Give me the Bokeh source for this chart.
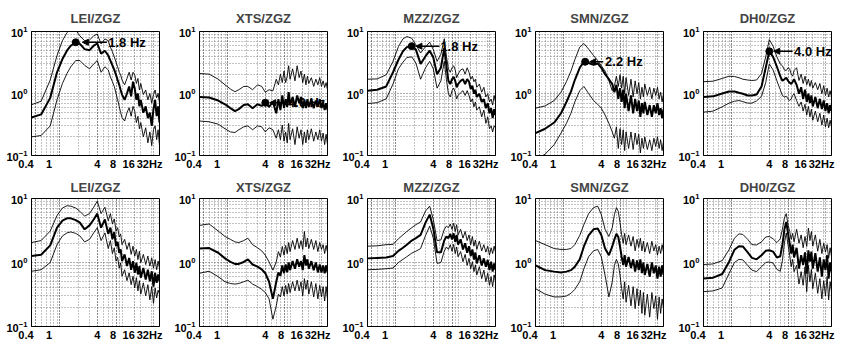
from bokeh.plotting import figure
from bokeh.layouts import gridplot
from bokeh.models import FixedTicker, Range1d, Arrow, NormalHead
from bokeh.core.properties import value
from bokeh.embed import file_html
from bokeh.resources import INLINE

# Frequency samples (Hz) shared by every spectral-ratio curve
freq = [0.35, 0.5, 0.7, 0.9, 1.1, 1.3, 1.5, 1.8, 2.1, 2.5, 3.0, 3.5, 4.0, 4.6, 5.3, 6.0,
        6.5, 7.0, 7.5, 8.0, 8.5, 9.0, 9.5, 10, 11, 12, 13, 14, 15, 16, 17, 18, 19, 20,
        22, 24, 26, 28, 30, 32, 34, 36, 38, 40]

stations = ["LEI/ZGZ", "XTS/ZGZ", "MZZ/ZGZ", "SMN/ZGZ", "DH0/ZGZ"]

# ---- upper row: mean ratio and mean +/- one standard deviation ----
lei_a_mean = [0.41, 0.46, 0.85, 2.2, 3.6, 4.9, 5.9, 6.7, 6.3, 5.2, 5.0, 5.9, 6.4, 4.4, 4.9, 4.1, 3.4, 2.85, 2.4, 2.0, 1.65, 1.38, 1.14, 0.96, 0.79, 1.0, 1.3, 0.9, 1.55, 1.2, 0.79, 1.0, 0.62, 0.79, 0.49, 0.62, 0.4, 0.49, 0.3, 0.56, 0.79, 0.43, 0.62, 0.34]
lei_a_upper = [0.66, 0.75, 1.65, 4.1, 7.1, 9.6, 11, 10.5, 8.5, 7.1, 7.3, 8.5, 9.1, 6.3, 7.6, 7.1, 5.6, 4.7, 3.9, 3.2, 2.7, 2.2, 2.0, 1.65, 1.38, 1.75, 2.2, 1.65, 2.2, 2.0, 1.45, 1.75, 1.14, 1.45, 0.96, 1.14, 0.79, 1.0, 0.7, 0.96, 1.14, 0.85, 1.0, 0.7]
lei_a_lower = [0.2, 0.21, 0.3, 0.79, 1.45, 2.1, 2.7, 3.4, 3.4, 2.85, 2.5, 3.0, 3.4, 2.2, 2.7, 2.4, 1.85, 1.55, 1.3, 1.0, 0.79, 0.62, 0.49, 0.41, 0.36, 0.49, 0.59, 0.43, 0.62, 0.52, 0.34, 0.43, 0.27, 0.34, 0.2, 0.28, 0.16, 0.24, 0.145, 0.26, 0.3, 0.18, 0.26, 0.145]

xts_a_mean = [0.88, 0.86, 0.77, 0.67, 0.58, 0.52, 0.56, 0.65, 0.67, 0.58, 0.67, 0.63, 0.71, 0.61, 0.73, 0.48, 0.81, 0.54, 0.93, 0.58, 0.81, 0.61, 1.05, 0.65, 0.88, 0.61, 0.93, 0.7, 0.88, 0.58, 0.77, 0.58, 0.81, 0.61, 0.81, 0.58, 0.77, 0.61, 0.81, 0.58, 0.73, 0.54, 0.7, 0.54]
xts_a_upper = [2.1, 2.05, 1.7, 1.38, 1.18, 1.07, 1.15, 1.3, 1.3, 1.15, 1.38, 1.3, 1.05, 1.15, 1.1, 1.7, 1.38, 2.05, 1.5, 2.3, 1.5, 1.9, 2.8, 1.7, 2.5, 1.6, 2.8, 1.8, 2.3, 1.5, 2.05, 1.38, 1.9, 1.45, 1.8, 1.3, 1.7, 1.38, 1.8, 1.3, 1.6, 1.25, 1.5, 1.15]
xts_a_lower = [0.36, 0.35, 0.32, 0.27, 0.24, 0.235, 0.26, 0.29, 0.3, 0.26, 0.3, 0.29, 0.24, 0.28, 0.26, 0.19, 0.26, 0.18, 0.31, 0.17, 0.24, 0.16, 0.33, 0.18, 0.27, 0.15, 0.29, 0.19, 0.26, 0.15, 0.24, 0.16, 0.26, 0.18, 0.27, 0.17, 0.24, 0.18, 0.26, 0.17, 0.23, 0.15, 0.22, 0.15]

mzz_a_mean = [1.11, 1.15, 1.3, 2.2, 3.5, 4.8, 5.6, 5.8, 5.1, 3.0, 4.0, 4.9, 3.8, 2.05, 2.6, 5.4, 2.8, 1.6, 1.42, 1.7, 1.85, 1.6, 1.26, 1.42, 1.6, 1.7, 1.42, 1.7, 1.55, 1.18, 1.34, 0.99, 1.15, 0.88, 0.99, 0.73, 0.81, 0.58, 0.7, 0.48, 0.58, 0.4, 0.56, 0.45]
mzz_a_upper = [1.7, 1.72, 2.0, 3.3, 5.7, 7.6, 8.3, 7.8, 6.1, 4.5, 5.7, 6.7, 5.1, 3.3, 4.3, 7.6, 4.0, 2.5, 2.2, 2.6, 2.8, 2.4, 1.8, 2.05, 2.4, 2.5, 2.05, 2.6, 2.2, 1.7, 1.9, 1.55, 1.7, 1.26, 1.42, 1.05, 1.26, 0.88, 0.99, 0.73, 0.81, 0.65, 0.93, 0.73]
mzz_a_lower = [0.69, 0.71, 0.82, 1.42, 2.5, 3.2, 3.8, 3.9, 3.1, 1.7, 2.6, 3.3, 2.5, 1.22, 1.6, 3.3, 1.7, 0.99, 0.88, 1.11, 1.22, 1.05, 0.82, 0.93, 1.03, 1.11, 0.93, 1.11, 0.93, 0.73, 0.82, 0.61, 0.73, 0.54, 0.61, 0.42, 0.54, 0.33, 0.42, 0.27, 0.3, 0.24, 0.3, 0.28]

smn_a_mean = [0.23, 0.27, 0.34, 0.48, 0.73, 1.07, 1.65, 2.6, 3.25, 3.1, 2.9, 3.05, 2.6, 2.05, 1.7, 1.42, 1.05, 1.38, 0.82, 1.22, 0.73, 1.15, 0.58, 0.99, 0.52, 0.93, 0.48, 0.82, 0.52, 0.77, 0.42, 0.7, 0.48, 0.73, 0.45, 0.65, 0.42, 0.65, 0.48, 0.7, 0.45, 0.58, 0.4, 0.56]
smn_a_upper = [0.58, 0.63, 0.77, 1.05, 1.55, 2.3, 3.5, 5.6, 6.4, 5.2, 4.1, 3.4, 2.8, 2.3, 1.6, 1.11, 1.34, 1.9, 1.3, 2.0, 1.22, 1.9, 0.99, 1.8, 0.93, 1.7, 0.88, 1.6, 0.99, 1.5, 0.82, 1.26, 0.88, 1.42, 0.93, 1.26, 0.82, 1.22, 0.93, 1.26, 0.82, 1.05, 0.73, 0.99]
smn_a_lower = [0.085, 0.105, 0.15, 0.23, 0.33, 0.48, 0.73, 1.11, 1.3, 1.0, 0.77, 0.67, 0.58, 0.45, 0.33, 0.24, 0.19, 0.29, 0.13, 0.27, 0.15, 0.26, 0.12, 0.24, 0.13, 0.24, 0.125, 0.23, 0.15, 0.22, 0.11, 0.19, 0.13, 0.2, 0.125, 0.18, 0.12, 0.19, 0.14, 0.2, 0.13, 0.18, 0.12, 0.17]

dh0_a_mean = [0.88, 0.9, 1.0, 1.08, 1.08, 1.03, 0.99, 0.93, 0.93, 0.96, 1.3, 2.6, 4.8, 3.9, 2.7, 1.9, 1.6, 1.7, 1.8, 1.6, 1.5, 1.42, 1.55, 1.7, 1.38, 0.99, 1.26, 0.82, 1.15, 0.73, 0.99, 0.7, 0.93, 0.62, 0.88, 0.58, 0.82, 0.56, 0.77, 0.52, 0.7, 0.48, 0.65, 0.52]
dh0_a_upper = [1.55, 1.58, 1.75, 1.9, 1.88, 1.8, 1.7, 1.65, 1.62, 1.65, 2.1, 3.9, 7.4, 5.8, 3.9, 3.0, 2.8, 2.4, 2.35, 2.6, 2.5, 2.05, 1.9, 2.35, 2.6, 1.62, 2.05, 1.45, 1.9, 1.38, 1.7, 1.3, 1.62, 1.22, 1.5, 1.15, 1.45, 0.99, 1.34, 0.93, 1.22, 0.88, 1.11, 0.88]
dh0_a_lower = [0.5, 0.52, 0.61, 0.7, 0.75, 0.77, 0.74, 0.7, 0.7, 0.76, 0.9, 1.5, 3.0, 2.4, 1.6, 1.15, 0.93, 0.88, 0.9, 0.82, 0.77, 0.82, 0.93, 0.99, 0.77, 0.62, 0.73, 0.52, 0.67, 0.45, 0.62, 0.42, 0.56, 0.37, 0.52, 0.35, 0.48, 0.31, 0.45, 0.29, 0.4, 0.28, 0.37, 0.29]

# ---- lower row ----
lei_b_mean = [1.26, 1.32, 1.85, 3.5, 4.5, 4.9, 4.9, 4.6, 4.2, 3.3, 3.8, 4.7, 5.8, 3.5, 4.7, 2.8, 3.5, 2.3, 3.0, 1.8, 2.1, 1.42, 1.6, 1.05, 1.34, 0.88, 1.18, 0.77, 1.05, 0.69, 0.99, 0.65, 0.88, 0.58, 0.82, 0.54, 0.77, 0.51, 0.73, 0.42, 0.69, 0.48, 0.65, 0.51]
lei_b_upper = [2.05, 2.2, 3.1, 5.4, 7.1, 7.7, 7.6, 7.1, 6.3, 5.3, 5.8, 7.3, 9.1, 5.8, 7.3, 4.5, 5.8, 4.0, 4.8, 3.1, 3.5, 2.5, 2.8, 1.9, 2.3, 1.6, 2.05, 1.34, 1.8, 1.26, 1.6, 1.11, 1.5, 0.99, 1.34, 0.93, 1.26, 0.88, 1.18, 0.82, 1.11, 0.77, 1.05, 0.82]
lei_b_lower = [0.73, 0.77, 1.0, 1.9, 2.6, 2.9, 3.0, 2.85, 2.6, 2.1, 2.3, 2.9, 3.5, 2.2, 2.9, 1.65, 2.2, 1.38, 1.7, 1.05, 1.2, 0.82, 0.99, 0.61, 0.77, 0.52, 0.69, 0.45, 0.61, 0.4, 0.58, 0.36, 0.52, 0.32, 0.48, 0.3, 0.45, 0.26, 0.42, 0.23, 0.4, 0.28, 0.37, 0.32]

xts_b_mean = [1.65, 1.68, 1.42, 1.16, 1.02, 0.95, 0.95, 1.02, 1.12, 0.93, 0.86, 0.78, 0.68, 0.5, 0.27, 0.5, 0.7, 0.62, 0.9, 0.68, 0.93, 0.7, 1.0, 0.76, 1.05, 0.8, 1.12, 0.86, 1.05, 0.76, 1.3, 0.9, 1.12, 0.8, 1.05, 0.76, 1.0, 0.7, 0.93, 0.7, 0.9, 0.68, 0.9, 0.7]
xts_b_upper = [3.8, 4.0, 3.1, 2.55, 2.3, 2.1, 2.05, 2.2, 2.4, 1.9, 1.7, 1.52, 1.3, 1.02, 0.76, 1.02, 1.48, 1.22, 1.78, 1.3, 1.85, 1.38, 2.05, 1.48, 2.2, 1.6, 2.4, 1.65, 2.2, 1.6, 3.05, 1.75, 2.4, 1.65, 2.3, 1.6, 2.2, 1.48, 2.05, 1.6, 1.9, 1.38, 1.85, 1.45]
xts_b_lower = [0.68, 0.73, 0.6, 0.5, 0.47, 0.46, 0.47, 0.5, 0.53, 0.46, 0.42, 0.38, 0.34, 0.27, 0.13, 0.21, 0.32, 0.29, 0.42, 0.3, 0.44, 0.32, 0.47, 0.34, 0.5, 0.36, 0.53, 0.36, 0.5, 0.3, 0.56, 0.38, 0.53, 0.32, 0.5, 0.29, 0.47, 0.27, 0.44, 0.29, 0.42, 0.25, 0.42, 0.27]

mzz_b_mean = [1.16, 1.18, 1.2, 1.26, 1.52, 1.7, 1.9, 2.2, 2.4, 2.7, 4.2, 5.6, 3.4, 1.44, 1.44, 2.2, 2.55, 2.4, 2.8, 2.3, 2.85, 2.1, 2.7, 1.9, 2.3, 1.6, 2.0, 1.42, 1.8, 1.26, 1.6, 1.11, 1.44, 0.97, 1.3, 0.9, 1.16, 0.86, 1.1, 0.76, 1.03, 0.72, 0.97, 0.76]
mzz_b_upper = [1.8, 1.82, 1.9, 1.92, 2.35, 2.7, 3.05, 3.5, 3.9, 4.3, 6.4, 7.6, 4.7, 2.2, 2.25, 3.3, 3.7, 3.5, 4.0, 3.3, 4.1, 3.05, 3.9, 2.7, 3.3, 2.4, 3.05, 2.2, 2.7, 1.9, 2.55, 1.8, 2.25, 1.6, 2.15, 1.52, 1.9, 1.45, 1.8, 1.3, 1.7, 1.38, 1.8, 1.45]
mzz_b_lower = [0.77, 0.78, 0.8, 0.82, 1.0, 1.12, 1.23, 1.4, 1.5, 1.65, 2.65, 3.7, 2.4, 0.97, 1.0, 1.5, 1.75, 1.6, 1.9, 1.5, 1.92, 1.38, 1.75, 1.23, 1.48, 1.03, 1.34, 0.9, 1.16, 0.8, 1.03, 0.72, 0.92, 0.64, 0.86, 0.56, 0.76, 0.5, 0.68, 0.44, 0.6, 0.42, 0.64, 0.5]

smn_b_mean = [0.9, 0.76, 0.72, 0.7, 0.72, 0.76, 0.86, 1.12, 1.78, 2.65, 3.3, 3.4, 2.7, 1.65, 1.3, 1.78, 2.3, 2.8, 2.5, 1.78, 1.22, 0.92, 1.3, 0.86, 1.22, 0.82, 1.12, 0.72, 1.08, 0.76, 1.12, 0.68, 1.0, 0.64, 0.95, 0.6, 1.0, 0.68, 0.9, 0.56, 0.86, 0.6, 0.9, 0.64]
smn_b_upper = [2.2, 1.9, 1.65, 1.6, 1.6, 1.65, 1.9, 2.65, 3.9, 5.8, 7.2, 7.6, 5.6, 3.3, 2.55, 3.5, 5.6, 7.2, 6.3, 4.2, 2.7, 2.0, 2.85, 1.9, 2.7, 1.8, 2.55, 1.52, 2.3, 1.72, 2.4, 1.52, 2.15, 1.45, 2.05, 1.38, 2.15, 1.52, 1.9, 1.3, 1.8, 1.38, 1.9, 1.45]
smn_b_lower = [0.39, 0.32, 0.29, 0.29, 0.3, 0.33, 0.38, 0.5, 0.8, 1.23, 1.52, 1.6, 1.23, 0.63, 0.29, 0.5, 0.9, 1.12, 0.95, 0.63, 0.39, 0.27, 0.5, 0.24, 0.44, 0.21, 0.42, 0.19, 0.39, 0.21, 0.37, 0.16, 0.34, 0.15, 0.32, 0.14, 0.34, 0.19, 0.3, 0.13, 0.29, 0.16, 0.27, 0.19]

dh0_b_mean = [0.56, 0.58, 0.66, 1.02, 1.58, 1.8, 1.78, 1.44, 1.18, 1.12, 1.3, 1.52, 1.55, 1.48, 1.2, 1.25, 1.9, 3.3, 4.3, 2.85, 2.0, 1.38, 1.9, 1.2, 1.7, 0.8, 1.3, 0.92, 1.44, 0.67, 1.55, 1.03, 1.48, 0.8, 1.4, 0.72, 1.2, 0.6, 1.12, 0.76, 1.3, 0.56, 1.0, 0.72]
dh0_b_upper = [0.93, 0.95, 1.07, 1.58, 2.4, 2.8, 2.75, 2.3, 1.9, 1.88, 2.1, 2.5, 2.55, 2.35, 2.05, 2.35, 3.3, 5.0, 5.8, 3.9, 3.05, 2.3, 2.85, 2.1, 3.3, 2.0, 2.7, 1.7, 2.55, 1.78, 3.45, 2.2, 3.05, 1.8, 2.7, 1.5, 2.3, 1.38, 2.0, 1.45, 1.9, 1.16, 1.7, 1.25]
dh0_b_lower = [0.35, 0.36, 0.4, 0.67, 1.0, 1.12, 1.1, 0.9, 0.76, 0.72, 0.86, 1.0, 1.02, 0.98, 0.78, 0.73, 1.07, 2.0, 2.9, 1.9, 1.3, 0.86, 1.12, 0.72, 0.9, 0.46, 0.72, 0.44, 0.86, 0.35, 0.9, 0.5, 0.78, 0.39, 0.68, 0.33, 0.56, 0.27, 0.52, 0.3, 0.6, 0.26, 0.5, 0.35]

# Fundamental-frequency picks marked on the upper row
peak_freq = [1.8, 4.0, 1.8, 2.2, 4.0]
peak_amp = [6.7, 0.71, 5.8, 3.25, 4.8]
peak_text = ["1.8 Hz", "4.0 Hz", "1.8 Hz", "2.2 Hz", "4.0 Hz"]

# Axis ticks
x_ticks = [0.4, 1, 4, 8, 16, 32]
x_tick_labels = ["0.4", "1", "4", "8", "16", "32Hz"]
x_minor = [0.4, 0.5, 0.6, 0.7, 0.8, 0.9, 1, 2, 3, 4, 5, 6, 7, 8, 9, 10, 20, 30, 40]
y_ticks = [0.1, 1, 10]
y_minor = [0.2, 0.3, 0.4, 0.5, 0.6, 0.7, 0.8, 0.9, 2, 3, 4, 5, 6, 7, 8, 9]

# tick labels sit a little left of their ticks; trailing no-break spaces nudge them
x_label_nudge = [6, 7, 0, 2, 4, 2]

top_row = [(lei_a_mean, lei_a_upper, lei_a_lower), (xts_a_mean, xts_a_upper, xts_a_lower),
           (mzz_a_mean, mzz_a_upper, mzz_a_lower), (smn_a_mean, smn_a_upper, smn_a_lower),
           (dh0_a_mean, dh0_a_upper, dh0_a_lower)]
bottom_row = [(lei_b_mean, lei_b_upper, lei_b_lower), (xts_b_mean, xts_b_upper, xts_b_lower),
              (mzz_b_mean, mzz_b_upper, mzz_b_lower), (smn_b_mean, smn_b_upper, smn_b_lower),
              (dh0_b_mean, dh0_b_upper, dh0_b_lower)]

# Where the pick labels sit: (text start Hz, arrow tail Hz, arrow head Hz)
label_place = [(6.0, 5.7, 2.3), (9.2, 8.8, 4.7), (5.2, 5.0, 2.1), (4.6, 4.3, 2.6), (10.0, 9.5, 4.7)]

FONT = "Liberation Sans"


def panel(title, mean, upper, lower, height, border_top, border_bottom, title_standoff):
    p = figure(width=168, height=height, x_axis_type="log", y_axis_type="log",
               x_range=Range1d(0.35, 40), y_range=Range1d(0.1, 10),
               output_backend="svg", toolbar_location=None,
               min_border_left=31, min_border_right=9,
               min_border_top=border_top, min_border_bottom=border_bottom,
               background_fill_color="white", border_fill_color="white")
    p.title.text = title
    p.title.align = "center"
    p.title.text_font = FONT
    p.title.text_font_style = "bold"
    p.title.text_font_size = "13px"
    p.title.standoff = title_standoff
    p.outline_line_color = "black"
    p.outline_line_width = 1

    p.xaxis.ticker = FixedTicker(ticks=x_ticks, minor_ticks=x_minor)
    p.yaxis.ticker = FixedTicker(ticks=y_ticks, minor_ticks=y_minor)
    p.xaxis.major_label_overrides = {
        t: lab + "\u00a0" * n for t, lab, n in zip(x_ticks, x_tick_labels, x_label_nudge)
    }
    for ax in (p.xaxis[0], p.yaxis[0]):
        ax.major_tick_in = 0
        ax.major_tick_out = 0
        ax.minor_tick_in = 0
        ax.minor_tick_out = 0
        ax.axis_line_color = "black"
        ax.major_label_text_font = FONT
        ax.major_label_text_font_style = "bold"
        ax.major_label_text_font_size = "11px"
        ax.major_label_text_color = "black"
    p.xaxis.major_label_standoff = 2
    p.yaxis.major_label_standoff = 4

    for g in (p.xgrid[0], p.ygrid[0]):
        g.grid_line_color = "#333333"
        g.grid_line_dash = "1 2"
        g.grid_line_width = 0.8
        g.minor_grid_line_color = "#555555"
        g.minor_grid_line_dash = "1 2"
        g.minor_grid_line_width = 0.7

    p.line(freq, upper, line_color="black", line_width=0.9)
    p.line(freq, lower, line_color="black", line_width=0.9)
    p.line(freq, mean, line_color="black", line_width=2.0)
    return p


top_figs = []
for i, (m, u, l) in enumerate(top_row):
    p = panel(stations[i], m, u, l, 172, 31, 15, 11)
    x_text, x_tail, x_head = label_place[i]
    p.scatter([peak_freq[i]], [peak_amp[i]], size=7, color="black")
    p.add_layout(Arrow(end=NormalHead(size=6, fill_color="black", line_color="black"),
                       x_start=x_tail, y_start=peak_amp[i], x_end=x_head, y_end=peak_amp[i],
                       line_color="black", line_width=1.5))
    p.text(x=[x_text], y=[peak_amp[i]], text=[peak_text[i]], text_font=value(FONT),
           text_font_style="bold", text_font_size="13px", text_baseline="middle",
           text_align="left", text_color="black")
    top_figs.append(p)

bottom_figs = []
for i, (m, u, l) in enumerate(bottom_row):
    bottom_figs.append(panel(stations[i], m, u, l, 171, 26, 17, 7))

layout = gridplot([top_figs, bottom_figs], toolbar_location=None)

with open("out.html", "w") as f:
    f.write(file_html(layout, INLINE))
